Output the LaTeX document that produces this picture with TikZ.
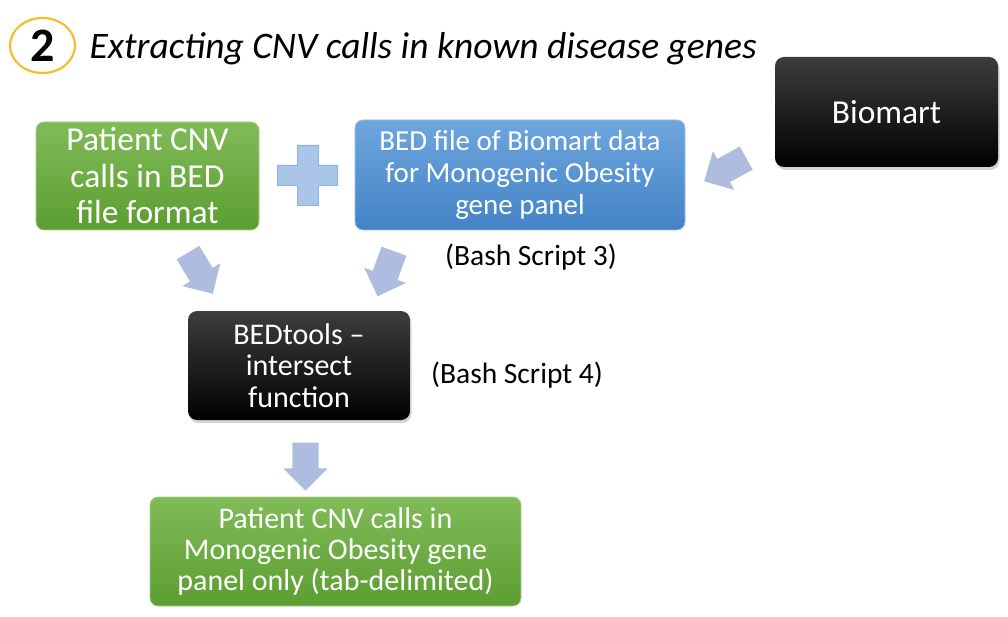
\documentclass[tikz,border=0pt]{standalone}
\usepackage{fontspec}
\setmainfont{Carlito}
\usetikzlibrary{shapes.arrows, shadows}

\definecolor{greentop}{HTML}{80BB58}
\definecolor{greenbot}{HTML}{5C9E31}
\definecolor{bluetop}{HTML}{6EA6DE}
\definecolor{bluebot}{HTML}{4383C6}
\definecolor{arrowfill}{HTML}{AEBCDF}
\definecolor{plusfill}{HTML}{A9C6E9}
\definecolor{plusline}{HTML}{8EB2DE}
\definecolor{ringcol}{HTML}{F3BE2B}

\begin{document}
\begin{tikzpicture}[x=1pt, y=-1pt,
	stepgreen/.style={rounded corners=8pt, top color=greentop, bottom color=greenbot, draw=greentop!70!white, line width=0.8pt, text=white, align=center, inner sep=0pt},
	stepblue/.style={rounded corners=8pt, top color=bluetop, bottom color=bluebot, draw=bluetop!70!white, line width=0.8pt, text=white, align=center, inner sep=0pt},
	stepblack/.style={rounded corners=9pt, top color=black!76, middle color=black, bottom color=black, text=white, align=center, inner sep=0pt, drop shadow={opacity=0.35, shadow xshift=1.5pt, shadow yshift=-3pt}},
	fatarrow/.style={single arrow, fill=arrowfill, inner sep=13pt, minimum height=48pt, single arrow head extend=9pt, single arrow tip angle=90, anchor=center},
	note/.style={font=\fontsize{29.5}{35}\selectfont, text=black}]

	\useasboundingbox (0,0) rectangle (1008,617);

	% heading
	\draw[ringcol, line width=2.2pt] (42.5,45.5) ellipse (32.5 and 27.5);
	\node (num) at (43,46) {\fontsize{48}{56}\selectfont\bfseries 2};
	\node[anchor=west] (title) at (86,49) {\fontsize{37.5}{44}\selectfont\itshape Extracting CNV calls in known disease genes};

	% boxes
	\node[stepgreen, minimum width=223pt, minimum height=108pt, font=\fontsize{33.5}{36.5}\selectfont] (calls) at (147.5,176) {Patient CNV\\calls in BED\\file format};
	\node[stepblue, minimum width=330pt, minimum height=110pt, font=\fontsize{29}{32}\selectfont] (panel) at (520,175) {BED file of Biomart data\\for Monogenic Obesity\\gene panel};
	\node[stepblack, minimum width=223pt, minimum height=110pt, font=\fontsize{33.5}{38}\selectfont] (biomart) at (886.5,112) {Biomart};
	\node[stepblack, minimum width=222pt, minimum height=109pt, font=\fontsize{30}{31.5}\selectfont] (bedtools) at (299,365.5) {BEDtools --\\intersect\\function};
	\node[stepgreen, minimum width=371pt, minimum height=109pt, font=\fontsize{30}{31}\selectfont] (result) at (335.5,551.5) {Patient CNV calls in\\Monogenic Obesity gene\\panel only (tab-delimited)};

	\node[note] (bash3) at (531,257) {(Bash Script 3)};
	\node[note] (bash4) at (517,375) {(Bash Script 4)};

	% plus sign
	\draw[plusline, fill=plusfill, line width=0.8pt] (297,145) -- (318,145) -- (318,165) -- (337,165) -- (337,185) -- (318,185) -- (318,205) -- (297,205) -- (297,185) -- (277,185) -- (277,165) -- (297,165) -- cycle;

	% arrows
	\node[fatarrow, rotate=-59] (a1) at (197,267.5) {};
	\node[fatarrow, rotate=-110] (a2) at (388,267.5) {};
	\node[fatarrow, rotate=-151] (a3) at (731,166.5) {};
	\node[fatarrow, rotate=-90] (a4) at (305.5,460) {};
\end{tikzpicture}
\end{document}
